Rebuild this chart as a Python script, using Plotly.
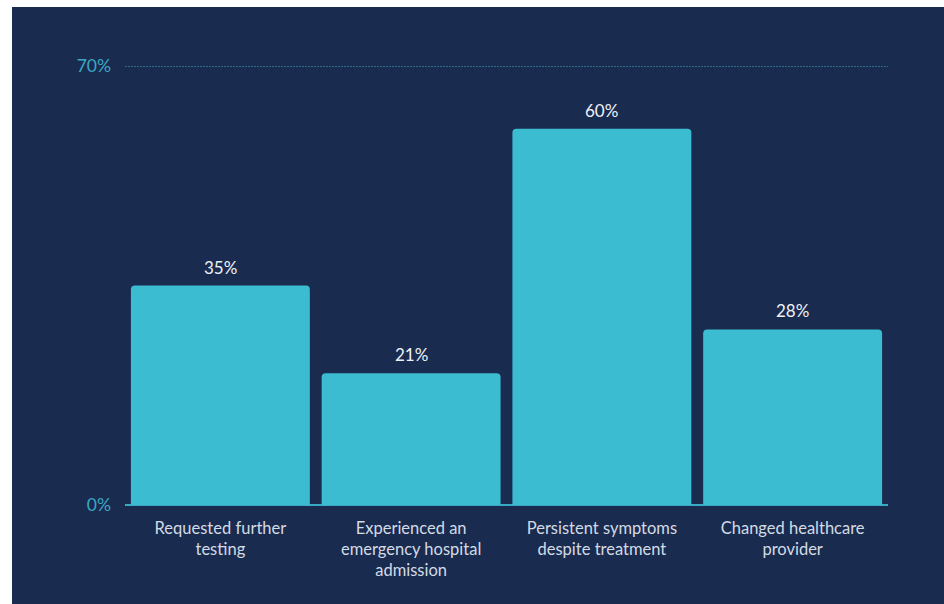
import plotly.graph_objects as go

categories = ["Requested further<br>testing",
              "Experienced an<br>emergency hospital<br>admission",
              "Persistent symptoms<br>despite treatment",
              "Changed healthcare<br>provider"]
values = [35, 21, 60, 28]
labels = [f"{v}%" for v in values]
tick_vals = [0, 70]
tick_text = ["0%", "70%"]
grid_val = 70

NAVY = "#1a2b50"
BAR = "#3bbcd1"
TEAL = "#3aa9c4"

fig = go.Figure(go.Bar(
    x=categories, y=values,
    marker=dict(color=BAR, line=dict(width=0)),
    cliponaxis=False, hoverinfo="skip",
))

for c, v, t in zip(categories, values, labels):
    fig.add_annotation(x=c, y=v, text=t, showarrow=False, yanchor="bottom",
                       yshift=6, font=dict(family="Lato", size=17, color="#eef2f6"))

W, H = 944, 604
ml, mr, mt, mb = 125, 56, 66, 99
pw, ph = W - ml - mr, H - mt - mb

def px_x(p):
    return (p - ml) / pw

def px_y(p):
    return (H - mb - p) / ph

fig.update_layout(
    width=W, height=H,
    margin=dict(l=ml, r=mr, t=mt, b=mb, pad=0),
    paper_bgcolor=NAVY, plot_bgcolor=NAVY,
    bargap=0.062, barcornerradius=4,
    showlegend=False,
    font=dict(family="Lato", color="#d3dbe4"),
    xaxis=dict(tickfont=dict(family="Lato", size=16.5, color="#d3dbe4"),
               showgrid=False, showline=False, ticks="", fixedrange=True,
               ticklabelstandoff=11),
    yaxis=dict(range=[0, 70], tickvals=tick_vals, ticktext=tick_text,
               tickfont=dict(family="Lato", size=17.5, color=TEAL),
               showgrid=False,
               zeroline=True, zerolinecolor=TEAL, zerolinewidth=2,
               showline=False, ticks="", ticklabelstandoff=13, fixedrange=True),
    shapes=[
        dict(type="line", xref="paper", yref="y", x0=0, x1=1,
             y0=grid_val, y1=grid_val, line=dict(color=TEAL, width=1, dash="2px,1px")),
        dict(type="rect", xref="paper", yref="paper",
             x0=px_x(0), x1=px_x(W), y0=px_y(7), y1=px_y(0),
             fillcolor="white", line=dict(width=0), layer="above"),
        dict(type="rect", xref="paper", yref="paper",
             x0=px_x(0), x1=px_x(12), y0=px_y(H), y1=px_y(0),
             fillcolor="white", line=dict(width=0), layer="above"),
    ],
)

fig.write_html("out.html")
